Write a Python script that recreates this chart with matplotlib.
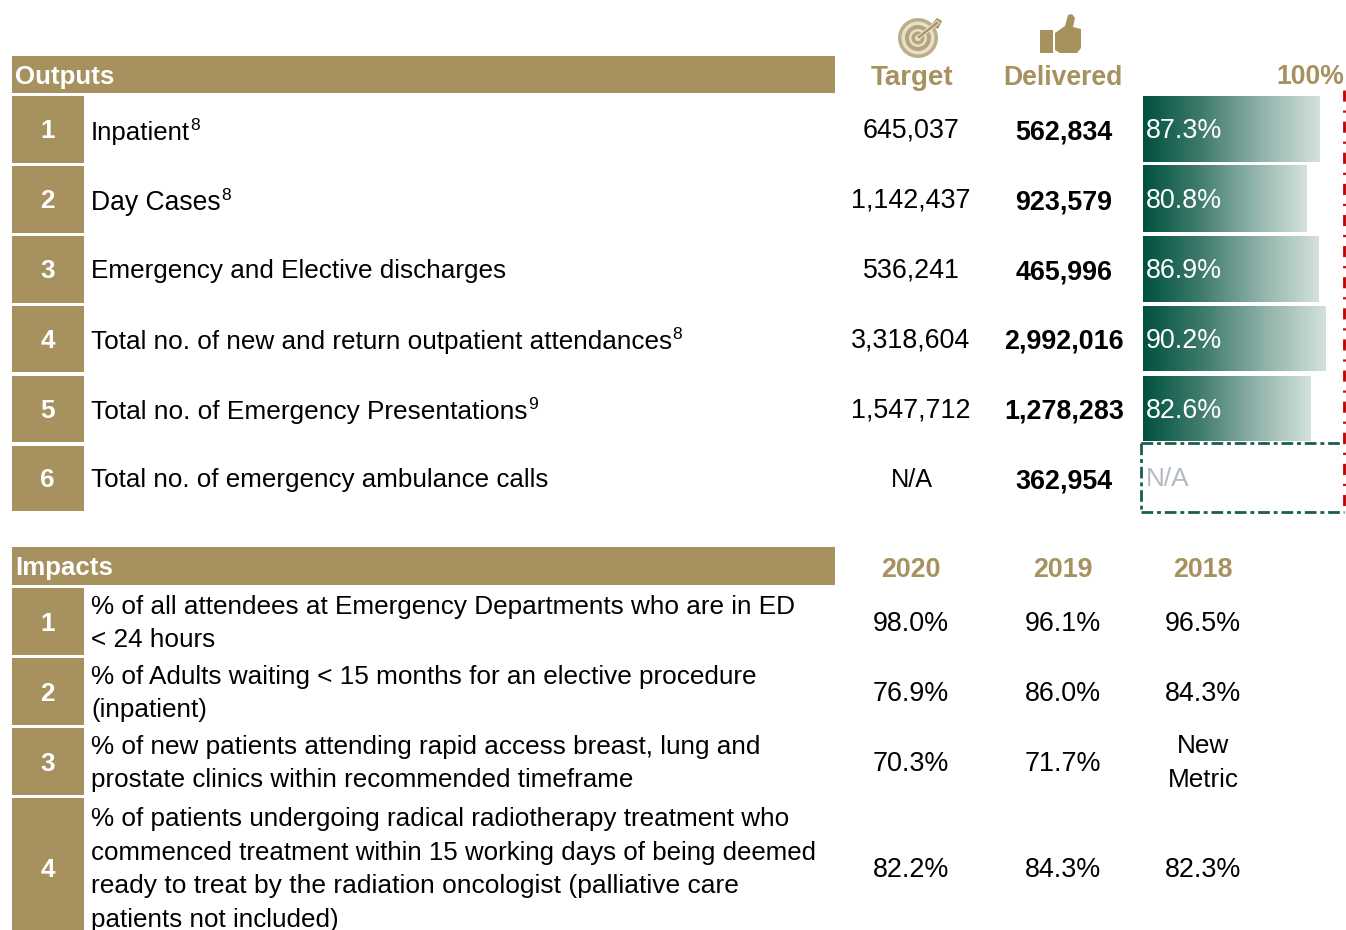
import numpy as np
import matplotlib
matplotlib.use("Agg")
import matplotlib.pyplot as plt
from matplotlib.patches import Rectangle, Circle, Polygon
from matplotlib.colors import LinearSegmentedColormap

plt.rcParams['font.family'] = ['Liberation Sans', 'DejaVu Sans']

GOLD = '#A6915F'
GREEN = '#00513F'
RED = '#C00000'

output_labels = ['Inpatient', 'Day Cases', 'Emergency and Elective discharges',
                 'Total no. of new and return outpatient attendances',
                 'Total no. of Emergency Presentations', 'Total no. of emergency ambulance calls']
output_notes = ['8', '8', '', '8', '9', '']
targets = ['645,037', '1,142,437', '536,241', '3,318,604', '1,547,712', 'N/A']
delivered = ['562,834', '923,579', '465,996', '2,992,016', '1,278,283', '362,954']
pct_delivered = [87.3, 80.8, 86.9, 90.2, 82.6, None]

impact_labels = [['% of all attendees at Emergency Departments who are in ED', '< 24 hours'],
                 ['% of Adults waiting < 15 months for an elective procedure', '(inpatient)'],
                 ['% of new patients attending rapid access breast, lung and',
                  'prostate clinics within recommended timeframe'],
                 ['% of patients undergoing radical radiotherapy treatment who',
                  'commenced treatment within 15 working days of being deemed',
                  'ready to treat by the radiation oncologist (palliative care',
                  'patients not included)']]
years = ['2020', '2019', '2018']
impact_2020 = ['98.0%', '76.9%', '70.3%', '82.2%']
impact_2019 = ['96.1%', '86.0%', '71.7%', '84.3%']
impact_2018 = ['96.5%', '84.3%', 'New\nMetric', '82.3%']

W, H = 1346, 930
fig = plt.figure(figsize=(W / 100, H / 100), dpi=100, facecolor='white')
ax = fig.add_axes([0, 0, 1, 1])
ax.set_xlim(0, W)
ax.set_ylim(H, 0)
ax.axis('off')

FS = 18.8
FN = 19.4
X_TARGET, X_DELIV, X_2018 = 911, 1064, 1203
# Small per-line size corrections: the original font's hinting gives uneven line widths
line_fs = {'commenced': 18.65, 'ready': 18.97, 'prostate': 18.7, 'patients not': 18.7,
           'Total no. of emergency': 18.73, 'Total no. of Emergency': 18.87, 'Inpatient': 18.6, 'Day': 19.1}


def size_for(s):
    for k, v in line_fs.items():
        if s.startswith(k):
            return v
    return FS


def box(x0, y0, x1, y1):
    ax.add_patch(Rectangle((x0, y0), x1 - x0, y1 - y0, fc=GOLD, ec='none'))


def label(x, y, s, note=''):
    t = ax.text(x, y, s, fontsize=size_for(s), color='black', va='center', ha='left')
    if note:
        fig.canvas.draw()
        bb = t.get_window_extent()
        ax.text(x + bb.width + 0.3, y - 8, note, fontsize=12.5, color='black', va='center', ha='left')


# Outputs
box(12, 56, 835, 93)
ax.text(15, 77, 'Outputs', fontsize=18.6, fontweight='bold', color='white', va='center')
row_top = [96, 166, 236, 306, 376, 446]
row_bot = [163, 233, 303, 372, 442, 511]
text_y = [133, 203, 271, 342, 412, 480]
for i, lab in enumerate(output_labels):
    box(12, row_top[i], 84, row_bot[i])
    cy = (row_top[i] + row_bot[i]) / 2
    ax.text(47.5, cy + 1.5, str(i + 1), fontsize=FS, fontweight='bold', color='white', ha='center', va='center')
    label(91, text_y[i], lab, output_notes[i])
    is_na = targets[i] == 'N/A'
    ax.text(X_TARGET + (1 if is_na else 0), cy + 1, targets[i], fontsize=18.2 if is_na else FN,
            color='black', ha='center', va='center')
    ax.text(X_DELIV, cy + 2.5, delivered[i], fontsize=FN, fontweight='bold', color='black', ha='center', va='center')

ax.text(X_TARGET + 1, 78, 'Target', fontsize=20, fontweight='bold', color=GOLD, ha='center', va='center')
ax.text(1063, 78, 'Delivered', fontsize=19.1, fontweight='bold', color=GOLD, ha='center', va='center')
ax.text(1344, 77, '100%', fontsize=19.2, fontweight='bold', color=GOLD, ha='right', va='center')

# Target icon
PALE = '#E6DFCC'
for r, c in [(20, '#BDAE88'), (16.5, PALE), (13, '#B5A57C'), (9, PALE), (6.5, '#B5A57C'), (3, PALE)]:
    ax.add_patch(Circle((918, 38), r, fc=c, ec='none'))
ax.plot([919, 937], [37, 23], color=PALE, lw=3.2)
ax.plot([919, 937], [37, 23], color=GOLD, lw=1.6)
ax.add_patch(Polygon([[931, 25], [937, 18], [942, 21], [938, 29]], fc=GOLD, ec='none'))

# Thumb icon
ax.add_patch(Rectangle((1040, 30), 13, 23, fc=GOLD, ec='none'))
ax.add_patch(Polygon([[1055, 33], [1065, 26], [1068, 15], [1072, 14], [1075, 18], [1073, 27],
                      [1081, 29], [1081, 48], [1077, 53], [1060, 53], [1055, 50]], fc=GOLD, ec='none'))

# Progress bars, drawn on their own 0-100 % axis
BX0, BX1, BY0, BY1 = 1143, 1345.5, 96, 511
bar_ax = fig.add_axes([BX0 / W, 1 - BY1 / H, (BX1 - BX0) / W, (BY1 - BY0) / H])
bar_ax.axis('off')
cmap = LinearSegmentedColormap.from_list('g', [GREEN, '#3F7B6D', '#8FB2A9', '#D3E1DD'])
grad = np.linspace(0, 1, 256).reshape(1, -1)
for i, p in enumerate(pct_delivered):
    if p is None:
        continue
    bar_ax.imshow(grad, cmap=cmap, aspect='auto', extent=(0, p, row_bot[i] - 1, row_top[i]), zorder=2)
    bar_ax.text(1.5, (row_top[i] + row_bot[i]) / 2 + 1.5, f'{p}%', fontsize=FN, color='white',
                va='center', ha='left', zorder=3)
bar_ax.set_xlim(0, 100)
bar_ax.set_ylim(BY1, BY0)

# N/A box and 100% line
gdash = (0, (4.2, 1.4, 1.4, 1.4))
rdash = (0, (4, 3.2, 0.8, 3.2))
GL = '#1A5E4E'
ax.plot([1141, 1344], [443, 443], color=GL, lw=2, ls=gdash)
ax.plot([1141, 1344], [512, 512], color=GL, lw=2, ls=gdash)
ax.plot([1141, 1141], [443, 512], color=GL, lw=2, ls=gdash)
ax.plot([1344, 1344], [90, 512], color=RED, lw=2, ls=rdash, zorder=5)
ax.text(1146, 479, 'N/A', fontsize=FS, color='#B4BAC4', va='center', ha='left')

# Impacts
box(12, 547, 835, 585)
ax.text(15, 568, 'Impacts', fontsize=18.6, fontweight='bold', color='white', va='center')
for x, y in zip([X_TARGET - 0.5, 1063, X_2018], years):
    ax.text(x, 570, y, fontsize=19.3, fontweight='bold', color=GOLD, ha='center', va='center')
imp_top = [588, 658, 728, 798]
imp_bot = [655, 725, 795, 931]
LINE = 33.6
for i, lines in enumerate(impact_labels):
    box(12, imp_top[i], 84, imp_bot[i])
    cy = 622 + 70 * i if i < 3 else 868
    ax.text(47.5, cy + 2, str(i + 1), fontsize=FS, fontweight='bold', color='white', ha='center', va='center')
    start = cy - LINE * (len(lines) - 1) / 2 + 1.5
    for j, s in enumerate(lines):
        label(91, start + j * LINE, s)
    ax.text(X_TARGET, cy + 1.5, impact_2020[i], fontsize=FN, color='black', ha='center', va='center')
    ax.text(1063, cy + 1.5, impact_2019[i], fontsize=FN, color='black', ha='center', va='center')
    if '\n' in impact_2018[i]:
        a, b = impact_2018[i].split('\n')
        ax.text(X_2018, cy - 16.5, a, fontsize=FS, color='black', ha='center', va='center')
        ax.text(X_2018, cy + 17.5, b, fontsize=FS, color='black', ha='center', va='center')
    else:
        ax.text(X_2018, cy + 1.5, impact_2018[i], fontsize=FN, color='black', ha='center', va='center')

fig.savefig('out.png', dpi=100, facecolor='white')
